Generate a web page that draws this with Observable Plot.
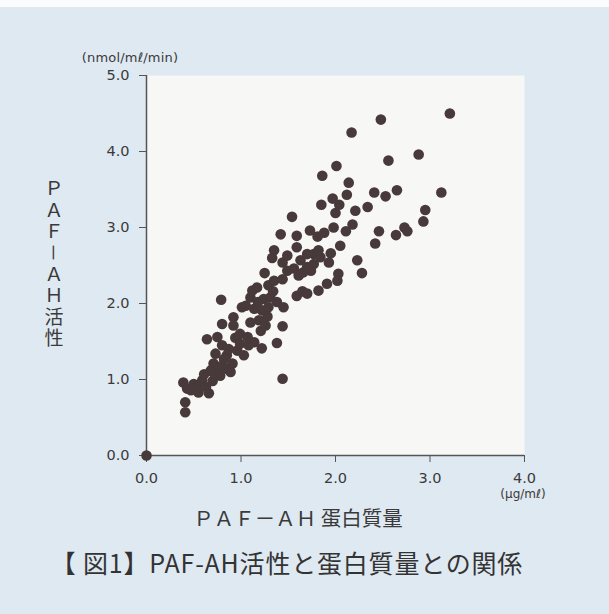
<!DOCTYPE html>
<html><head><meta charset="utf-8">
<script src="https://cdn.jsdelivr.net/npm/d3@7"></script>
<script src="https://cdn.jsdelivr.net/npm/@observablehq/plot@0.6"></script>
<style>
html,body{margin:0;padding:0;background:#dfe9f2;}
#wrap{position:relative;width:609px;height:614px;background:#dfe9f2;overflow:hidden;}
#topstrip{position:absolute;left:0;top:0;width:609px;height:7px;background:#fbfcfd;}
#chart{position:absolute;left:0;top:0;}
.lbl{position:absolute;color:#3a3a3a;white-space:nowrap;}
#uy{left:130px;top:57px;transform:translate(-50%,-50%);font:13px "DejaVu Sans";letter-spacing:0.2px;}
#ux{left:523px;top:494px;transform:translate(-50%,-50%);font:12px "DejaVu Sans";}
#ty{left:58px;top:179px;transform:translateX(-50%);font:19px "Noto Sans CJK JP";writing-mode:vertical-rl;text-orientation:mixed;letter-spacing:2.3px;}
#ty .rot{text-orientation:sideways;}
#tx{left:298px;top:517px;transform:translate(-50%,-50%);font:20.5px "Noto Sans CJK JP";}
#cap{left:287px;top:562px;transform:translate(-50%,-50%);font:25px "Noto Sans CJK JP";letter-spacing:0.8px;color:#333;}
</style></head><body>
<div id="wrap">
  <div id="topstrip"></div>
  <div id="chart"></div>
  <div class="lbl" id="uy">(nmol/mℓ/min)</div>
  <div class="lbl" id="ux">(μg/mℓ)</div>
  <div class="lbl" id="ty">ＰＡＦ<span class="rot">－</span>ＡＨ活性</div>
  <div class="lbl" id="tx">ＰＡＦ－ＡＨ 蛋白質量</div>
  <div class="lbl" id="cap">【 図1】PAF-AH活性と蛋白質量との関係</div>
</div>
<script>
// PAF-AH protein mass (μg/mℓ)
const protein = [
  0.00,
  0.39,0.41,0.41,0.43,0.47,0.50,0.54,0.55,0.59,0.61,0.63,0.66,0.68,0.70,
  0.64,0.71,0.70,0.73,0.75,0.77,0.78,0.79,0.80,0.80,0.80,0.82,0.85,0.85,0.87,0.89,0.91,0.92,0.92,0.94,0.96,0.99,0.99,1.01,1.03,1.05,1.07,1.08,
  1.10,1.10,1.12,1.14,1.14,1.17,1.19,1.21,1.22,1.22,1.24,1.26,1.25,1.29,1.29,1.31,1.35,1.38,1.38,1.44,1.44,1.44,1.45,1.49,1.28,1.34,1.18,
  1.35,1.33,1.42,1.44,1.49,1.54,1.56,1.59,1.59,1.59,1.61,1.63,1.65,1.66,1.70,1.70,1.70,1.73,1.81,1.88,1.74,1.77,1.77,1.82,1.84,1.85,1.86,1.91,1.93,1.95,1.97,1.98,2.00,2.01,2.02,2.03,2.04,2.05,1.82,
  2.11,2.14,2.12,2.17,2.18,2.21,2.23,2.28,2.34,2.41,2.42,2.46,2.48,2.53,2.56,2.64,2.65,2.73,2.76,2.88,2.93,2.95,3.12,3.21
];
// PAF-AH activity (nmol/mℓ/min)
const activity = [
  0.00,
  0.96,0.70,0.57,0.88,0.86,0.94,0.92,0.83,0.99,1.07,0.90,0.82,1.12,0.98,
  1.53,1.21,1.10,1.34,1.56,1.16,1.05,2.05,1.73,1.45,1.18,1.27,1.32,1.14,1.40,1.10,1.21,1.82,1.71,1.55,1.38,1.60,1.47,1.95,1.32,1.97,1.56,1.45,
  2.08,1.75,2.17,1.93,1.49,2.21,1.78,1.64,1.91,1.41,2.06,1.71,2.40,2.24,1.95,2.08,2.30,2.02,1.48,1.70,1.01,2.32,1.95,2.43,1.83,2.16,2.02,
  2.70,2.60,2.91,2.54,2.63,3.14,2.46,2.89,2.74,2.10,2.37,2.57,2.16,2.41,2.13,2.65,2.48,2.96,2.88,2.93,2.43,2.52,2.65,2.17,2.61,3.30,3.68,2.26,2.54,2.66,3.38,3.00,3.19,3.81,2.30,2.39,3.30,2.76,2.70,
  2.95,3.59,3.43,4.25,3.04,3.22,2.57,2.40,3.27,3.46,2.79,2.95,4.42,3.41,3.88,2.90,3.49,3.00,2.95,3.96,3.08,3.23,3.46,4.50
];
const xTicks = [0, 1, 2, 3, 4];
const yTicks = [0, 1, 2, 3, 4, 5];

const data = protein.map((p, i) => ({protein: p, activity: activity[i]}));

const chart = Plot.plot({
  width: 609,
  height: 540,
  marginLeft: 146,
  marginRight: 85,
  marginTop: 75,
  marginBottom: 85,
  style: {background: "transparent", fontFamily: "DejaVu Sans", fontSize: "14.5px", color: "#3a3a3a"},
  x: {domain: [0, 4], label: null},
  y: {domain: [0, 5], label: null},
  marks: [
    Plot.frame({fill: "#f7f7f5", stroke: null}),
    Plot.axisY({ticks: yTicks, tickFormat: d => d.toFixed(1), tickSize: 7, tickPadding: 10, stroke: "#555", fontSize: 14.5}),
    Plot.axisX({ticks: xTicks, tickFormat: d => d.toFixed(1), tickSize: 7, tickPadding: 10, stroke: "#555", fontSize: 14.5}),
    Plot.ruleX([0], {stroke: "#555", strokeWidth: 1.5}),
    Plot.ruleY([0], {stroke: "#555", strokeWidth: 1.5}),
    Plot.dot(data, {x: "protein", y: "activity", r: 5.3, fill: "#48393a", stroke: "none"})
  ]
});
document.getElementById("chart").appendChild(chart);
</script>
</body></html>
